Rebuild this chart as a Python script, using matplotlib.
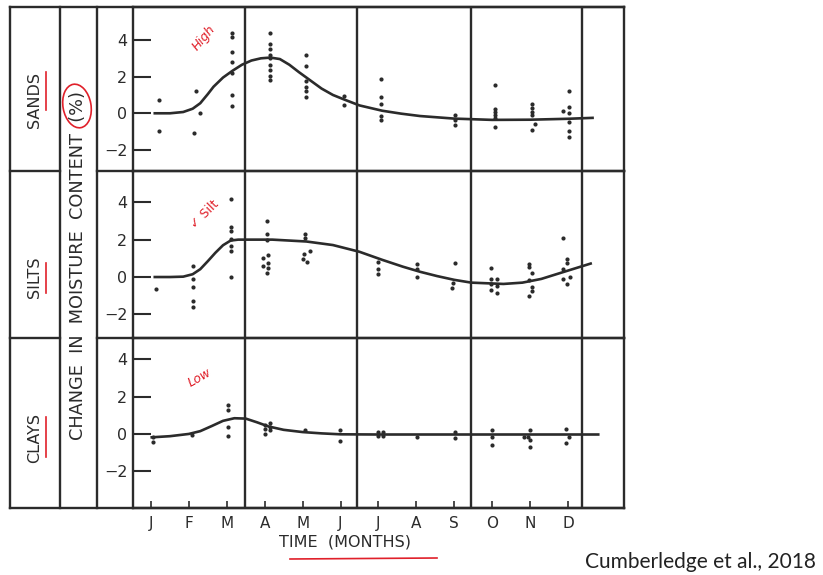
import matplotlib.pyplot as plt
from matplotlib.patches import Ellipse

plt.rcParams['font.family'] = 'DejaVu Sans'

months = ['J', 'F', 'M', 'A', 'M', 'J', 'J', 'A', 'S', 'O', 'N', 'D']
yticks = [-2, 0, 2, 4]
quarter_lines = [2.48, 5.43, 8.44, 11.37]

# observed points: (month position, [change in moisture content %])
sands_pts = [
    (0.22, [0.75, -0.95]),
    (1.19, [1.2]), (1.3, [0.0]), (1.14, [-1.1]),
    (2.14, [4.4, 4.15, 3.35, 2.8, 2.2, 1.0, 0.38]),
    (3.13, [4.4, 3.8, 3.5, 3.2, 3.0, 2.65, 2.35, 2.05, 1.8]),
    (4.08, [3.2, 2.6, 1.75, 1.45, 1.2, 0.9]),
    (5.08, [0.95, 0.43]),
    (6.07, [1.88, 0.87, 0.52, -0.13, -0.36]),
    (8.02, [-0.1, -0.35, -0.65]),
    (9.08, [1.55, 0.25, 0.07, -0.1, -0.27, -0.74]),
    (10.04, [0.49, 0.31, 0.07, -0.1, -0.92]), (10.14, [-0.56]),
    (11.03, [1.19, 0.34, 0.02, -0.47, -0.97, -1.28]), (10.86, [0.12]),
]
silts_pts = [
    (0.12, [-0.64]),
    (1.11, [0.6, -0.12, -0.52, -1.28, -1.62]),
    (2.1, [4.17, 2.69, 2.45, 2.05, 1.66, 1.39, 0.02]),
    (3.07, [2.99, 2.28, 2.0, 0.2]), (2.96, [1.03, 0.59]), (3.1, [1.18, 0.73, 0.47]),
    (4.07, [2.28, 2.07]), (4.19, [1.39]), (4.05, [1.23]), (4.01, [0.95]), (4.12, [0.82]),
    (6.0, [0.82, 0.41, 0.14]),
    (7.03, [0.7, 0.41, 0.02]),
    (8.02, [0.73]), (7.97, [-0.3]), (7.93, [-0.57]),
    (8.98, [0.5, -0.12, -0.37, -0.7]), (9.12, [-0.12, -0.48, -0.87]),
    (9.97, [0.7, 0.52, -0.16, -1.02]), (10.05, [0.2, -0.55, -0.75]),
    (10.88, [2.1, 0.41, -0.12]), (10.97, [0.95, 0.73, -0.37]), (11.05, [0.02]),
]
clays_pts = [
    (0.06, [-0.14, -0.41]),
    (1.07, [-0.05]),
    (2.04, [1.55, 1.28, 0.39, -0.11]),
    (3.0, [0.48, 0.25, 0.0]), (3.15, [0.57, 0.39, 0.21]),
    (4.06, [0.21]),
    (4.99, [0.21, -0.36]),
    (5.98, [0.1, -0.1]), (6.13, [0.1, -0.1]),
    (7.01, [-0.14]),
    (8.02, [0.12, -0.23]),
    (9.0, [0.21, -0.16, -0.59]),
    (9.84, [-0.18]), (9.94, [-0.18]), (10.0, [0.21, -0.32, -0.68]),
    (10.95, [0.25, -0.5]), (11.02, [-0.18]),
]

# fitted curves
sands_curve_x = [0.1, 0.5, 0.85, 1.1, 1.3, 1.5, 1.65, 1.9, 2.15, 2.4, 2.65, 2.9, 3.15, 3.4,
                 3.65, 3.9, 4.2, 4.5, 4.8, 5.1, 5.5, 6.1, 6.6, 7.1, 8.0, 9.0, 10.0, 11.0, 11.65]
sands_curve_y = [0.0, 0.0, 0.07, 0.25, 0.55, 1.05, 1.45, 1.95, 2.32, 2.65, 2.88, 3.0, 3.04, 2.96,
                 2.65, 2.25, 1.8, 1.35, 1.0, 0.75, 0.43, 0.14, -0.02, -0.15, -0.29, -0.36, -0.35, -0.3, -0.25]
silts_curve_x = [0.1, 0.5, 0.85, 1.1, 1.3, 1.5, 1.7, 1.9, 2.1, 2.3, 2.6, 3.2, 4.1, 4.8, 5.5,
                 6.1, 6.65, 7.1, 7.55, 8.0, 8.45, 9.3, 9.8, 10.3, 10.9, 11.6]
silts_curve_y = [0.0, 0.0, 0.02, 0.15, 0.42, 0.85, 1.3, 1.7, 1.95, 2.0, 2.0, 2.0, 1.9, 1.71, 1.35,
                 0.92, 0.55, 0.28, 0.05, -0.15, -0.3, -0.37, -0.3, -0.1, 0.28, 0.72]
clays_curve_x = [0.02, 0.5, 1.0, 1.3, 1.6, 1.9, 2.2, 2.5, 2.8, 3.1, 3.5, 4.0, 4.5, 5.0, 6.0, 8.0, 10.0, 11.8]
clays_curve_y = [-0.18, -0.12, 0.0, 0.15, 0.42, 0.7, 0.84, 0.82, 0.62, 0.4, 0.22, 0.1, 0.03, -0.02,
                 -0.03, -0.03, -0.03, -0.03]

ink = '#2b2b2b'
red = '#e0202a'

fig = plt.figure(figsize=(8.23, 5.75), dpi=100)

# background axes in pixel units for the table frame and labels
frame = fig.add_axes([0, 0, 1, 1])
frame.set_xlim(0, 823)
frame.set_ylim(575, 0)
frame.axis('off')

lw = 1.7
frame.plot([10, 624], [7, 7], color=ink, lw=lw)
frame.plot([10, 624], [508, 508], color=ink, lw=lw)
for x in [10, 60, 97]:
    frame.plot([x, x], [7, 508], color=ink, lw=lw)
for y in [171, 338]:
    frame.plot([10, 60], [y, y], color=ink, lw=lw)
    frame.plot([97, 133], [y, y], color=ink, lw=lw)

for name, yc, ul in [('SANDS', 100, (72, 110)), ('SILTS', 277, (263, 293)), ('CLAYS', 438, (417, 457))]:
    frame.text(35, yc, name, rotation=90, ha='center', va='center', fontsize=11.5, color=ink)
    frame.plot([46, 46], ul, color=red, lw=1.2)

frame.text(78, 266, 'CHANGE  IN  MOISTURE  CONTENT  (%)', rotation=90, ha='center', va='center',
           fontsize=12.8, color=ink)
frame.add_patch(Ellipse((77, 106), 28, 44, angle=-10, fill=False, edgecolor=red, lw=1.2))

frame.text(345, 542, 'TIME  (MONTHS)', ha='center', va='center', fontsize=11.5, color=ink)
frame.plot([290, 437], [559, 558], color=red, lw=1.2)

frame.text(204, 38, 'High', rotation=50, ha='center', va='center', fontsize=9, color=red,
           style='italic')
frame.text(205, 214, '✓ Silt', rotation=45, ha='center', va='center', fontsize=9, color=red)
frame.text(200, 378, 'Low', rotation=30, ha='center', va='center', fontsize=9, color=red,
           style='italic')

frame.text(700, 562, 'Cumberledge et al., 2018', ha='center', va='center', fontsize=15,
           color='#222222', family='Lato')

panels = [
    ([0.1616, 0.7026, 0.5966, 0.2852], sands_pts, sands_curve_x, sands_curve_y, (-3.15, 5.8)),
    ([0.1616, 0.4122, 0.5966, 0.2904], silts_pts, silts_curve_x, silts_curve_y, (-3.26, 5.67)),
    ([0.1616, 0.1165, 0.5966, 0.2957], clays_pts, clays_curve_x, clays_curve_y, (-3.96, 5.13)),
]

for i, (rect, pts, cx, cy, ylim) in enumerate(panels):
    ax = fig.add_axes(rect, facecolor='none')
    xs = [m for m, vals in pts for v in vals]
    ys = [v for m, vals in pts for v in vals]
    ax.scatter(xs, ys, s=9, color=ink, zorder=3, linewidths=0)
    ax.plot(cx, cy, color=ink, lw=1.9, zorder=2)
    for q in quarter_lines:
        ax.axvline(q, color=ink, lw=lw)
    ax.set_xlim(-0.475, 12.48)
    ax.set_ylim(*ylim)
    ax.set_yticks(yticks)
    ax.tick_params(axis='y', direction='in', length=13, width=1.5, color=ink, pad=4,
                   labelsize=11.5, labelcolor=ink)
    for s in ax.spines.values():
        s.set_linewidth(lw)
        s.set_color(ink)
    ax.set_xticks(range(12))
    if i == 2:
        ax.set_xticklabels(months)
        ax.tick_params(axis='x', direction='in', length=5, width=1.2, color=ink, pad=6,
                       labelsize=11, labelcolor=ink)
    else:
        ax.tick_params(axis='x', length=0, labelbottom=False)

fig.savefig('out.png', dpi=100)
